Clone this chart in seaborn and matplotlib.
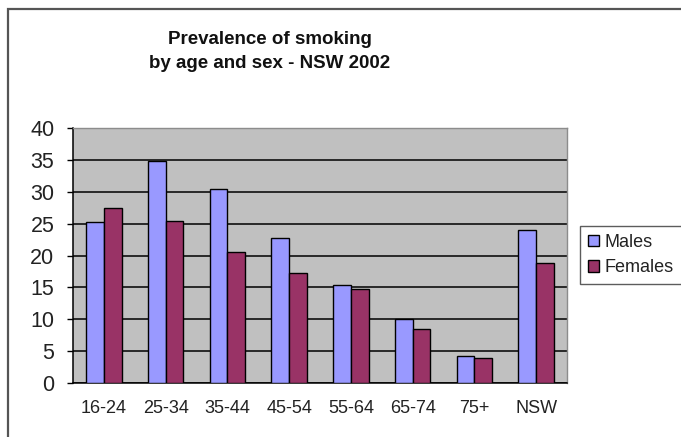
import matplotlib
matplotlib.use("Agg")
import matplotlib.pyplot as plt
import matplotlib.patches as mpatches
import numpy as np
import pandas as pd
import seaborn as sns

# Smoking prevalence (%) by age group and sex, NSW 2002
age_groups = ["16-24", "25-34", "35-44", "45-54", "55-64", "65-74", "75+", "NSW"]
males = [25.3, 34.8, 30.4, 22.7, 15.4, 10.0, 4.2, 24.0]
females = [27.4, 25.4, 20.5, 17.3, 14.7, 8.5, 4.0, 18.9]
series_names = ["Males", "Females"]
series_colors = ["#9999FF", "#993366"]
y_ticks = [0, 5, 10, 15, 20, 25, 30, 35, 40]

df = pd.DataFrame({
    "age": age_groups * 2,
    "sex": [series_names[0]] * len(age_groups) + [series_names[1]] * len(age_groups),
    "pct": males + females,
})

sns.set_style("white")
plt.rcParams["font.family"] = ["Liberation Sans", "DejaVu Sans"]

W, H = 681, 437
fig = plt.figure(figsize=(W / 100, H / 100), dpi=100)
fig.patch.set_facecolor("white")

# chart-area border
fig.add_artist(mpatches.Rectangle((8 / W, -0.05), 1.1, 1 - 9 / H + 0.05,
                                  transform=fig.transFigure, fill=False,
                                  edgecolor="#555555", linewidth=1.6, zorder=0))

ax = fig.add_axes([73 / W, 1 - 383 / H, (567 - 73) / W, (383 - 128) / H])
ax.set_facecolor("#C0C0C0")

sns.barplot(data=df, x="age", y="pct", hue="sex", order=age_groups,
            hue_order=series_names, palette=series_colors, width=0.574,
            gap=0, edgecolor="black", linewidth=1.0, saturation=1,
            legend=False, ax=ax, zorder=3)

ax.set_xlim(-0.5, len(age_groups) - 0.5)
ax.set_ylim(0, 40)
ax.set_yticks(y_ticks)
ax.set_yticklabels([str(v) for v in y_ticks], fontsize=15.5, color="#222222")
ax.yaxis.grid(True, color="black", linewidth=1.1, zorder=1)
ax.xaxis.grid(False)
ax.set_axisbelow(True)
ax.set_xlabel("")
ax.set_ylabel("")

# category labels centred, tick marks on category boundaries
ax.set_xticks(range(len(age_groups)))
ax.set_xticklabels(age_groups, fontsize=13, color="#222222")
ax.set_xticks(np.arange(-0.5, len(age_groups)), minor=True)
ax.tick_params(axis="x", which="major", length=0, pad=12)
ax.tick_params(axis="x", which="minor", length=4.5, width=1.0, color="black",
               direction="out")
ax.tick_params(axis="y", length=4.5, width=1.0, color="black", direction="out",
               pad=9, left=True)

for side in ("left", "bottom"):
    ax.spines[side].set_color("black")
    ax.spines[side].set_linewidth(1.1)
for side in ("top", "right"):
    ax.spines[side].set_color("#8C8C8C")
    ax.spines[side].set_linewidth(1.0)

# title
fig.text(270 / W, 1 - 40 / H, "Prevalence of smoking", ha="center", va="center",
         fontsize=13.5, fontweight="bold", color="#111111")
fig.text(270 / W, 1 - 63 / H, "by age and sex - NSW 2002", ha="center",
         va="center", fontsize=13.5, fontweight="bold", color="#111111")

# legend
handles = [mpatches.Patch(facecolor=c, edgecolor="black", linewidth=1.0, label=n)
           for n, c in zip(series_names, series_colors)]
leg = fig.legend(handles=handles, loc="upper left",
                 bbox_to_anchor=(580 / W, 1 - 226 / H),
                 bbox_transform=fig.transFigure, fontsize=13, frameon=True,
                 fancybox=False, edgecolor="#333333", handlelength=0.6,
                 handleheight=0.6, handletextpad=0.3, borderpad=0.45,
                 labelspacing=0.45, borderaxespad=0)
leg.get_frame().set_linewidth(1.0)
for t in leg.get_texts():
    t.set_color("#222222")

fig.savefig("out.png", dpi=100, facecolor="white")
